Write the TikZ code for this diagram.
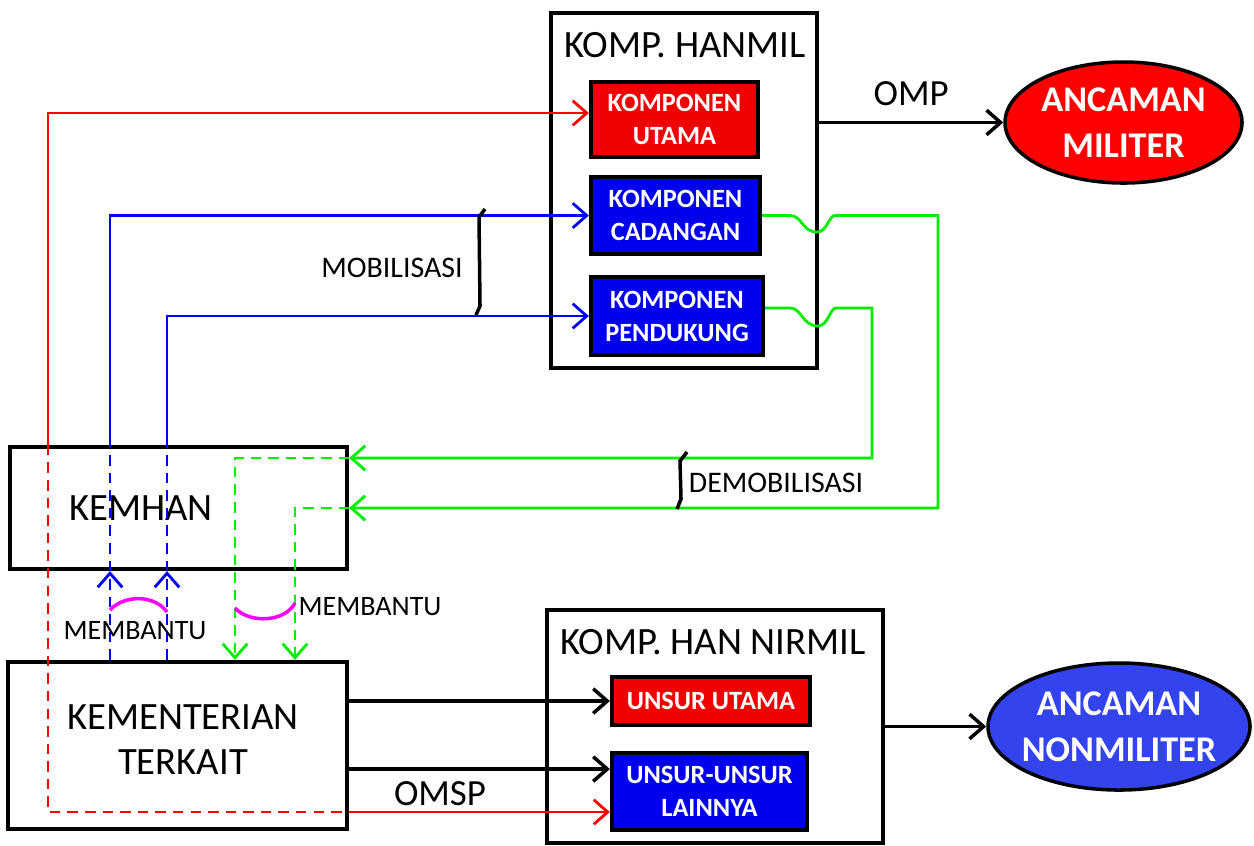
\documentclass[tikz,border=0pt]{standalone}
\usepackage{fontspec}
\setmainfont{Carlito}
\usetikzlibrary{arrows.meta,shapes.geometric}

\begin{document}
\begin{tikzpicture}[>={Straight Barb[length=4pt,width=7pt]},
    frame/.style={draw, line width=1.2pt, inner sep=0pt},
    comp/.style={draw, line width=1.2pt, inner sep=0pt, text=white, align=center,
        font=\bfseries\fontsize{7.5}{9.4}\selectfont},
    threat/.style={ellipse, draw, line width=1pt, inner sep=0pt, text=white, align=center,
        font=\bfseries\fontsize{10.3}{13}\selectfont},
    bigtext/.style={font=\fontsize{11}{12.8}\selectfont, align=center},
    smalltext/.style={font=\fontsize{8.5}{10}\selectfont}]
    \definecolor{redLine}{HTML}{FF0000}
    \definecolor{blueLine}{HTML}{0000FF}
    \definecolor{greenLine}{HTML}{00EE00}
    \definecolor{helpColour}{HTML}{FF00FF}
    \definecolor{fillRed}{HTML}{F00000}
    \definecolor{fillBlue}{HTML}{0000EE}
    \definecolor{fillEllipse}{HTML}{3344EE}
    \tikzset{
        redln/.style={redLine, line width=0.8pt},
        blueln/.style={blueLine, line width=0.8pt},
        greenln/.style={greenLine, line width=0.8pt},
        dashln/.style={dash pattern=on 3pt off 2pt}}

    \useasboundingbox (0,0) rectangle (12.54,-8.45);

    % Komponen pertahanan militer
    \node[frame, minimum width=2.66cm, minimum height=3.55cm] (hanmil) at (6.84,-1.905) {};
    \node[bigtext] (hanmilTitle) at (6.85,-0.45) {KOMP. HANMIL};
    \node[comp, fill=fillRed, minimum width=1.67cm, minimum height=0.75cm] (utama) at (6.745,-1.195) {KOMPONEN\\UTAMA};
    \node[comp, fill=fillBlue, minimum width=1.69cm, minimum height=0.77cm] (cadangan) at (6.755,-2.155) {KOMPONEN\\CADANGAN};
    \node[comp, fill=fillBlue, minimum width=1.72cm, minimum height=0.78cm] (pendukung) at (6.77,-3.16) {KOMPONEN\\PENDUKUNG};
    \node[threat, fill=redLine, minimum width=2.37cm, minimum height=1.21cm] (militer) at (11.235,-1.225) {ANCAMAN\\MILITER};

    % Kemhan dan kementerian
    \node[frame, minimum width=3.37cm, minimum height=1.22cm] (kemhan) at (1.785,-5.08) {};
    \node[bigtext] (kemhanText) at (1.41,-5.08) {KEMHAN};
    \node[frame, minimum width=3.39cm, minimum height=1.67cm] (kementerian) at (1.775,-7.455) {};
    \node[bigtext] (kementerianText) at (1.83,-7.40) {KEMENTERIAN\\TERKAIT};

    % Komponen pertahanan nirmiliter
    \node[frame, minimum width=3.36cm, minimum height=2.33cm] (nirmil) at (7.15,-7.265) {};
    \node[bigtext] (nirmilTitle) at (7.13,-6.42) {KOMP. HAN NIRMIL};
    \node[comp, fill=fillRed, minimum width=1.98cm, minimum height=0.48cm] (unsurutama) at (7.11,-7.01) {UNSUR UTAMA};
    \node[comp, fill=fillBlue, minimum width=1.95cm, minimum height=0.77cm] (lainnya) at (7.095,-7.915) {UNSUR-UNSUR\\LAINNYA};
    \node[threat, fill=fillEllipse, inner sep=-3pt, minimum width=2.62cm, minimum height=1.27cm] (nonmiliter) at (11.19,-7.265) {ANCAMAN\\NONMILITER};

    % Helper coordinates
    \coordinate (redX) at (0.48,0);
    \coordinate (redY) at (0,-8.12);
    \coordinate (blueA) at (1.10,0);
    \coordinate (blueB) at (1.67,0);
    \coordinate (greenA) at (9.38,0);
    \coordinate (greenB) at (8.72,0);
    \coordinate (dashA) at (2.95,0);
    \coordinate (dashB) at (2.35,0);
    \coordinate (kemhanIn) at ([yshift=0.5cm]kemhan.east);
    \coordinate (pendukungOut) at ([yshift=0.08cm]pendukung.east);
    \coordinate (blackY) at ([yshift=0.225cm]lainnya.west);

    % OMP and OMSP
    \draw[line width=1pt, ->] (hanmil.east |- militer.west) -- (militer.west)
        node[midway, above=1pt, font=\fontsize{10.5}{12}\selectfont] {OMP};
    \draw[line width=1pt, ->] (nirmil.east |- nonmiliter.west) -- (nonmiliter.west);
    \draw[line width=1pt, ->] (kementerian.east |- unsurutama.west) -- (unsurutama.west);
    \draw[line width=1pt, ->] (kementerian.east |- blackY) -- (blackY);

    % Red path
    \draw[redln, ->] (kemhan.north -| redX) |- ([yshift=0.065cm]utama.west);
    \draw[redln, dashln] (kemhan.north -| redX) |- (kementerian.east |- redY);
    \draw[redln, ->] (kementerian.east |- redY) -- (lainnya.west |- redY);
    \node[font=\fontsize{10.5}{12}\selectfont] (omsp) at (4.40,-7.94) {OMSP};

    % Blue paths (mobilisasi)
    \draw[blueln, dashln, ->] (kementerian.north -| blueA) -- (kemhan.south -| blueA);
    \draw[blueln, dashln] (kemhan.south -| blueA) -- (kemhan.north -| blueA);
    \draw[blueln, ->] (kemhan.north -| blueA) |- (cadangan.west);
    \draw[blueln, dashln, ->] (kementerian.north -| blueB) -- (kemhan.south -| blueB);
    \draw[blueln, dashln] (kemhan.south -| blueB) -- (kemhan.north -| blueB);
    \draw[blueln, ->] (kemhan.north -| blueB) |- (pendukung.west);
    \draw[line width=1pt] (4.85,-2.09) -- (4.79,-2.17) -- (4.80,-3.06) -- (4.76,-3.15);
    \node[smalltext] (mobilisasi) at (3.92,-2.68) {MOBILISASI};

    % Green paths (demobilisasi)
    \draw[greenln, ->] (cadangan.east) -- (7.90,-2.155)
        .. controls (8.02,-2.155) and (8.02,-2.32) .. (8.17,-2.32)
        .. controls (8.27,-2.32) and (8.29,-2.155) .. (8.35,-2.155)
        -- (greenA |- cadangan.east) |- (kemhan.east);
    \draw[greenln, ->] (pendukungOut) -- (7.90,-3.08)
        .. controls (8.02,-3.08) and (8.02,-3.26) .. (8.18,-3.26)
        .. controls (8.28,-3.26) and (8.30,-3.08) .. (8.36,-3.08)
        -- (greenB |- pendukungOut) |- (kemhanIn);
    \draw[greenln, dashln, ->] (kemhan.east) -| (dashA |- kementerian.north);
    \draw[greenln, dashln, ->] (kemhanIn) -| (dashB |- kementerian.north);
    \draw[line width=1pt] (6.87,-4.52) -- (6.80,-4.61) -- (6.81,-4.99) -- (6.77,-5.09);
    \node[smalltext] (demobilisasi) at (7.76,-4.83) {DEMOBILISASI};

    % Membantu
    \draw[helpColour, line width=1pt] (1.10,-6.10) .. controls (1.25,-5.94) and (1.55,-5.95) .. (1.67,-6.12);
    \draw[helpColour, line width=1pt] (2.35,-6.08) .. controls (2.50,-6.24) and (2.85,-6.22) .. (2.95,-6.03);
    \node[smalltext, font=\fontsize{8}{10}\selectfont] (membantuA) at (1.35,-6.31) {MEMBANTU};
    \node[smalltext, font=\fontsize{8}{10}\selectfont] (membantuB) at (3.70,-6.07) {MEMBANTU};

\end{tikzpicture}
\end{document}
